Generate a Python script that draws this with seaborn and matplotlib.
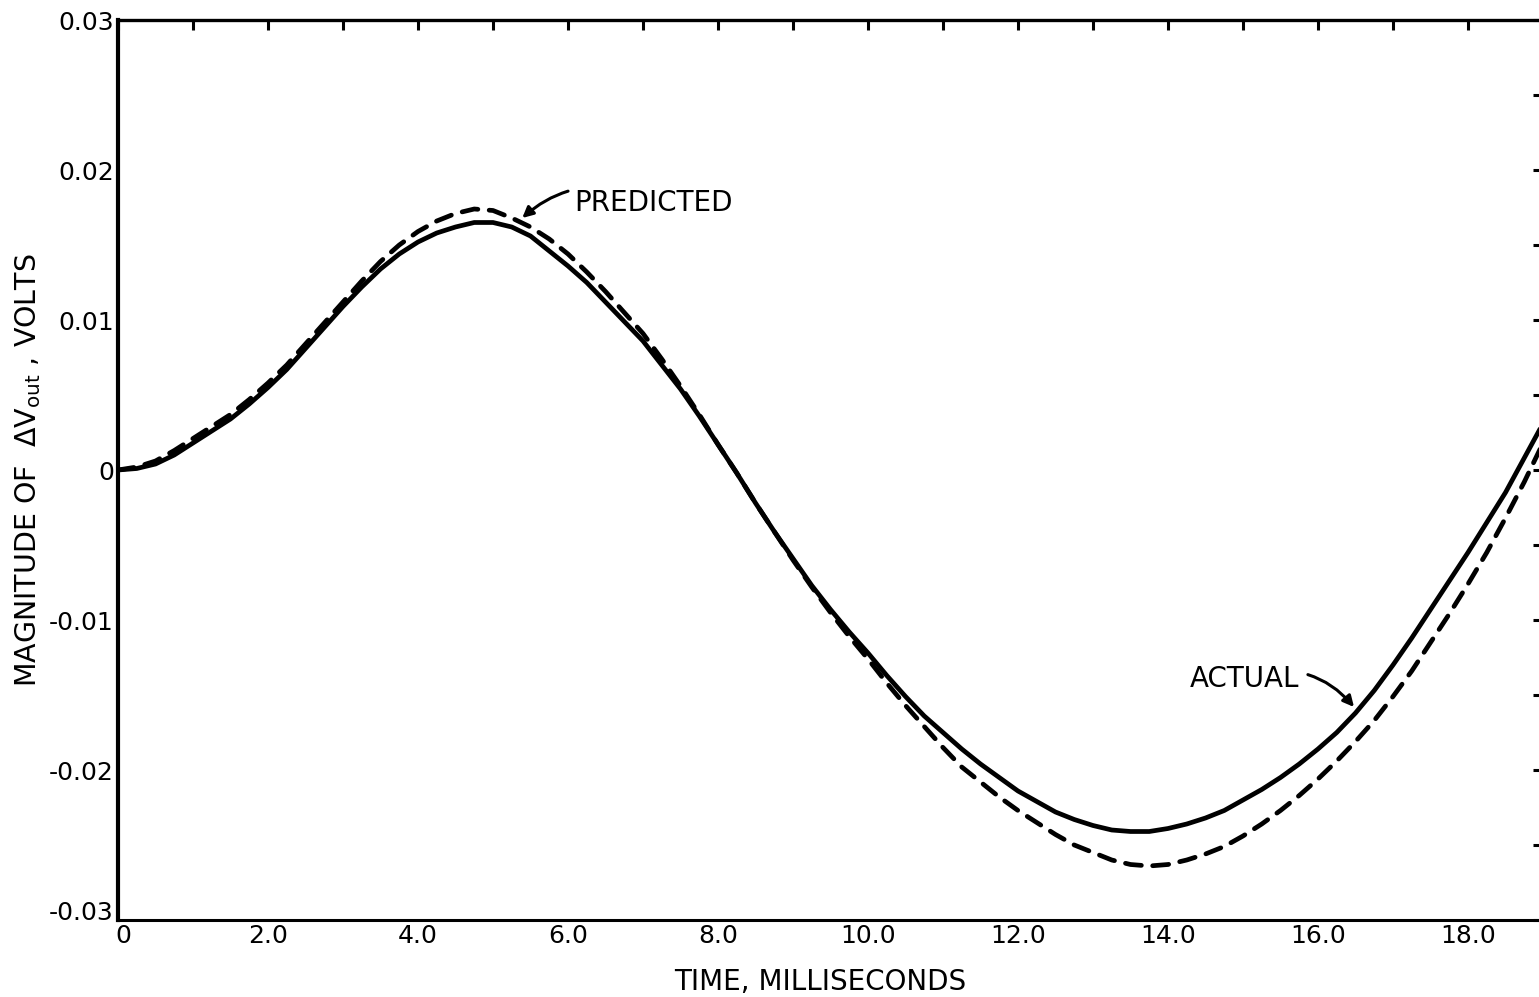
import numpy as np
import pandas as pd
import matplotlib
matplotlib.use("Agg")
import matplotlib.pyplot as plt
import matplotlib.transforms as mtransforms
from matplotlib.ticker import FixedLocator, MultipleLocator
import seaborn as sns

# Time base in milliseconds (0.25 ms steps)
time_ms = [0.00, 0.25, 0.50, 0.75, 1.00, 1.25, 1.50, 1.75, 2.00, 2.25, 2.50, 2.75,
           3.00, 3.25, 3.50, 3.75, 4.00, 4.25, 4.50, 4.75, 5.00, 5.25, 5.50, 5.75,
           6.00, 6.25, 6.50, 6.75, 7.00, 7.25, 7.50, 7.75, 8.00, 8.25, 8.50, 8.75,
           9.00, 9.25, 9.50, 9.75, 10.00, 10.25, 10.50, 10.75, 11.00, 11.25, 11.50,
           11.75, 12.00, 12.25, 12.50, 12.75, 13.00, 13.25, 13.50, 13.75, 14.00,
           14.25, 14.50, 14.75, 15.00, 15.25, 15.50, 15.75, 16.00, 16.25, 16.50,
           16.75, 17.00, 17.25, 17.50, 17.75, 18.00, 18.25, 18.50, 18.75, 19.00]

# Measured output change, volts
actual_v = [0.0000, 0.0001, 0.0004, 0.0010, 0.0018, 0.0026, 0.0034, 0.0044, 0.0055,
            0.0067, 0.0081, 0.0095, 0.0109, 0.0122, 0.0134, 0.0144, 0.0152, 0.0158,
            0.0162, 0.0165, 0.0165, 0.0162, 0.0156, 0.0146, 0.0136, 0.0125, 0.0112,
            0.0099, 0.0086, 0.0070, 0.0054, 0.0036, 0.0017, -0.0002, -0.0022, -0.0041,
            -0.0059, -0.0077, -0.0093, -0.0108, -0.0122, -0.0137, -0.0151, -0.0164,
            -0.0175, -0.0186, -0.0196, -0.0205, -0.0214, -0.0221, -0.0228, -0.0233,
            -0.0237, -0.0240, -0.0241, -0.0241, -0.0239, -0.0236, -0.0232, -0.0227,
            -0.0220, -0.0213, -0.0205, -0.0196, -0.0186, -0.0175, -0.0162, -0.0147,
            -0.0130, -0.0112, -0.0093, -0.0074, -0.0055, -0.0035, -0.0015, 0.0008,
            0.0031]

# Model prediction, volts
predicted_v = [0.0000, 0.0002, 0.0006, 0.0013, 0.0021, 0.0029, 0.0037, 0.0047, 0.0058,
               0.0070, 0.0084, 0.0098, 0.0112, 0.0126, 0.0139, 0.0150, 0.0159, 0.0166,
               0.0171, 0.0174, 0.0173, 0.0168, 0.0162, 0.0154, 0.0144, 0.0132, 0.0119,
               0.0105, 0.0091, 0.0074, 0.0056, 0.0037, 0.0017, -0.0002, -0.0022, -0.0041,
               -0.0060, -0.0078, -0.0095, -0.0111, -0.0126, -0.0142, -0.0157, -0.0171,
               -0.0185, -0.0198, -0.0208, -0.0218, -0.0227, -0.0235, -0.0243, -0.0250,
               -0.0255, -0.0260, -0.0263, -0.0264, -0.0263, -0.0260, -0.0256, -0.0251,
               -0.0244, -0.0236, -0.0227, -0.0217, -0.0206, -0.0194, -0.0181, -0.0167,
               -0.0151, -0.0134, -0.0115, -0.0096, -0.0076, -0.0055, -0.0032, -0.0008,
               0.0018]

x_tick_pos = [0, 2, 4, 6, 8, 10, 12, 14, 16, 18]
x_tick_labels = ["0", "2.0", "4.0", "6.0", "8.0", "10.0", "12.0", "14.0", "16.0", "18.0"]
y_tick_pos = [0.03, 0.02, 0.01, 0.0, -0.01, -0.02, -0.03]
y_tick_labels = ["0.03", "0.02", "0.01", "0", "-0.01", "-0.02", "-0.03"]

sns.set_theme(style="white")
plt.rcParams["font.family"] = ["DejaVu Sans"]
plt.rcParams["mathtext.fontset"] = "dejavusans"

df = pd.DataFrame({"t": time_ms, "actual": actual_v, "predicted": predicted_v})

fig = plt.figure(figsize=(15.39, 9.97), dpi=100)
ax = fig.add_axes([118 / 1539, 1 - 920 / 997, 1425 / 1539, 900 / 997])

sns.lineplot(data=df, x="t", y="actual", ax=ax, color="black", lw=3.4,
             solid_capstyle="round", solid_joinstyle="round")
sns.lineplot(data=df, x="t", y="predicted", ax=ax, color="black", lw=3.4,
             linestyle=(0, (3.4, 2.4)), dash_capstyle="round")

ax.set_xlim(0, 19)
ax.set_ylim(-0.03, 0.03)

ax.xaxis.set_major_locator(FixedLocator(x_tick_pos))
ax.set_xticklabels(x_tick_labels)
ax.xaxis.set_minor_locator(MultipleLocator(1.0))
ax.yaxis.set_major_locator(FixedLocator(y_tick_pos))
ax.set_yticklabels(y_tick_labels)
ax.yaxis.set_minor_locator(MultipleLocator(0.005))

ax.tick_params(axis="both", which="both", direction="in", top=True, right=True,
               color="black", width=2.2, labelcolor="black")
ax.tick_params(axis="both", which="both", length=7)
ax.tick_params(axis="x", which="major", labelsize=18, pad=3)
ax.tick_params(axis="y", which="major", labelsize=18, pad=3)

# Keep the corner labels "0" and "-0.03" apart
ax.get_xticklabels()[0].set_transform(
    ax.get_xticklabels()[0].get_transform()
    + mtransforms.ScaledTranslation(5 / 100, 0, fig.dpi_scale_trans))
ax.get_yticklabels()[-1].set_transform(
    ax.get_yticklabels()[-1].get_transform()
    + mtransforms.ScaledTranslation(0, 10 / 100, fig.dpi_scale_trans))

for side, w in {"left": 3.0, "top": 2.4, "bottom": 2.2, "right": 2.2}.items():
    ax.spines[side].set_linewidth(w)
    ax.spines[side].set_color("black")
    ax.spines[side].set_visible(True)

ax.set_xlabel("TIME, MILLISECONDS", fontsize=20, color="black")
ax.xaxis.set_label_coords((820 - 118) / 1425, -0.053)
ax.set_ylabel(r"MAGNITUDE OF  $\Delta\mathrm{V_{out}}$ , VOLTS", fontsize=20.5,
              labelpad=4, color="black")

ax.annotate("PREDICTED", xy=(5.39, 0.0168), xytext=(6.08, 0.0178),
            fontsize=20, va="center", ha="left", color="black",
            arrowprops=dict(arrowstyle="-|>", color="black", lw=2.2,
                            mutation_scale=16, shrinkA=2, shrinkB=0,
                            connectionstyle="arc3,rad=0.35"))
ax.annotate("ACTUAL", xy=(16.48, -0.0158), xytext=(14.29, -0.0139),
            fontsize=20, va="center", ha="left", color="black",
            arrowprops=dict(arrowstyle="-|>", color="black", lw=2.2,
                            mutation_scale=16, shrinkA=4, shrinkB=0,
                            connectionstyle="arc3,rad=-0.35"))

fig.savefig("out.png", dpi=100, facecolor="white")
